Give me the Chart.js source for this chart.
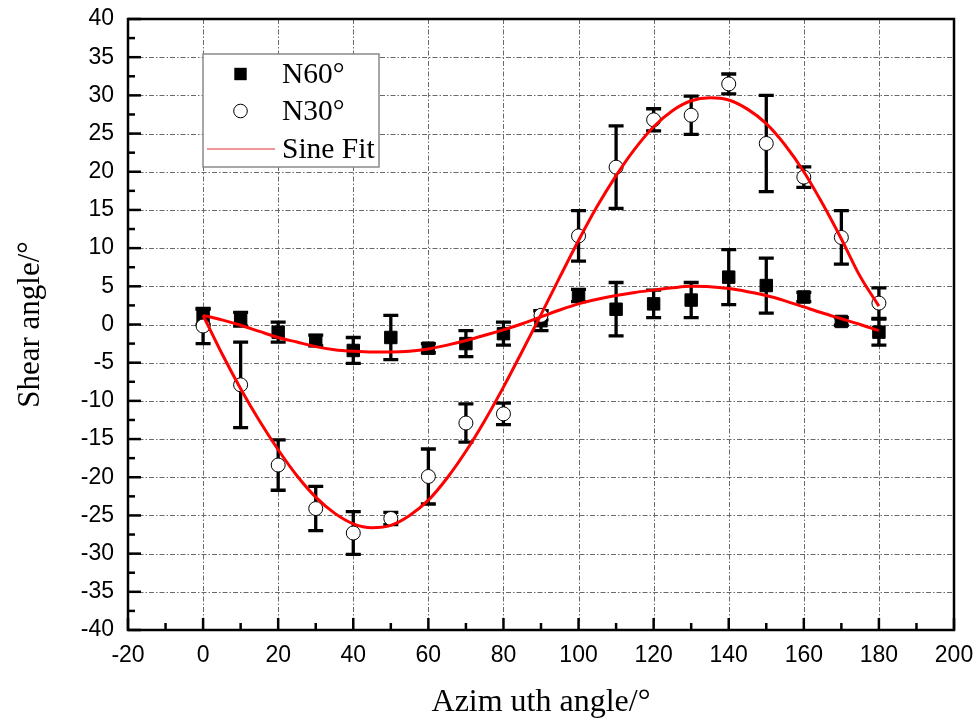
<!DOCTYPE html>
<html>
<head>
<meta charset="utf-8">
<script src="https://cdn.jsdelivr.net/npm/chart.js@4.4.1/dist/chart.umd.min.js"></script>
<style>
html,body{margin:0;padding:0;background:#fff;}
#wrap{width:979px;height:722px;}
</style>
</head>
<body>
<div id="wrap"><canvas id="c" width="979" height="722"></canvas></div>
<script>
// ---- data ----
const angles = [0,10,20,30,40,50,60,70,80,90,100,110,120,130,140,150,160,170,180];
const n60 = [1.0,0.7,-1.0,-2.1,-3.4,-1.7,-3.1,-2.5,-1.2,0.5,3.8,2.0,2.7,3.2,6.2,5.1,3.6,0.4,-1.0];
const n60Err = [1.0,0.9,1.3,0.7,1.7,2.9,0.6,1.7,1.5,1.3,0.8,3.5,1.8,2.3,3.6,3.6,0.6,0.5,1.7];
const n30 = [-0.2,-7.9,-18.4,-24.1,-27.3,-25.4,-19.9,-12.9,-11.7,1.2,11.6,20.6,26.8,27.4,31.5,23.7,19.3,11.4,2.8];
const n30Err = [2.3,5.6,3.3,2.9,2.8,0.8,3.6,2.5,1.4,0.6,3.3,5.4,1.45,2.5,1.3,6.3,1.35,3.5,2.0];

const fitAngles = [0,5,10,15,20,25,30,35,40,45,50,55,60,65,70,75,80,85,90,95,100,105,110,115,120,125,130,135,140,145,150,155,160,165,170,175,180];
const fitN60 = [1.2,0.6,-0.1,-0.9,-1.7,-2.3,-2.9,-3.3,-3.5,-3.6,-3.6,-3.5,-3.2,-2.7,-2.1,-1.4,-0.7,0.1,1.0,1.9,2.7,3.3,3.8,4.2,4.5,4.8,5.0,4.95,4.7,4.3,3.8,3.1,2.3,1.5,0.75,0.0,-0.8];
const fitN30 = [1.2,-3.8,-8.4,-12.6,-16.4,-19.8,-22.6,-24.7,-26.1,-26.6,-26.3,-25.0,-23.0,-20.1,-16.6,-12.6,-8.2,-3.5,1.3,6.2,11.0,15.5,19.5,23.0,25.9,28.0,29.3,29.7,29.4,28.2,26.3,23.5,20.0,15.8,11.2,6.3,2.4];

const xTitle = 'Azim uth angle/\u00B0';
const yTitle = 'Shear angle/\u00B0';
const seriesLabels = ['N60\u00B0','N30\u00B0','Sine Fit'];

const pts = (xs, ys) => xs.map((x,i)=>({x:x,y:ys[i]}));

// error bars
const errorBarPlugin = {
  id:'errorBars',
  beforeDatasetsDraw(chart){
    const {ctx, scales:{x,y}} = chart;
    ctx.save();
    ctx.strokeStyle='#000';
    ctx.lineWidth=3.3;
    ctx.lineCap='butt';
    const cap=7.5;
    const draw=(xs,ys,es)=>{
      xs.forEach((a,i)=>{
        const px=x.getPixelForValue(a);
        const top=y.getPixelForValue(ys[i]+es[i]);
        const bot=y.getPixelForValue(ys[i]-es[i]);
        ctx.beginPath();
        ctx.moveTo(px,top);ctx.lineTo(px,bot);
        ctx.moveTo(px-cap,top);ctx.lineTo(px+cap,top);
        ctx.moveTo(px-cap,bot);ctx.lineTo(px+cap,bot);
        ctx.stroke();
      });
    };
    draw(angles,n60,n60Err);
    draw(angles,n30,n30Err);
    ctx.restore();
  }
};

// grid, frame, inward ticks
const framePlugin = {
  id:'frame',
  beforeDatasetsDraw(chart){
    const {ctx, chartArea:a, scales:{x,y}} = chart;
    ctx.save();
    ctx.strokeStyle='#6a6a6a';
    ctx.lineWidth=1;
    ctx.setLineDash([5,2,1.5,2]);
    x.ticks.forEach(t=>{
      const px=Math.round(x.getPixelForValue(t.value))+0.5;
      if(px<=a.left+1||px>=a.right-1) return;
      ctx.beginPath();ctx.moveTo(px,a.top);ctx.lineTo(px,a.bottom);ctx.stroke();
    });
    y.ticks.forEach(t=>{
      const py=Math.round(y.getPixelForValue(t.value))+0.5;
      if(py<=a.top+1||py>=a.bottom-1) return;
      ctx.beginPath();ctx.moveTo(a.left,py);ctx.lineTo(a.right,py);ctx.stroke();
    });
    ctx.restore();
  },
  afterDatasetsDraw(chart){
    const {ctx, chartArea:a, scales:{x,y}} = chart;
    ctx.save();
    ctx.strokeStyle='#000';
    ctx.setLineDash([]);
    ctx.lineWidth=2.5;
    ctx.strokeRect(a.left,a.top,a.right-a.left,a.bottom-a.top);
    ctx.lineWidth=2.5;
    const xt=x.ticks.map(t=>t.value);
    xt.forEach((v,i)=>{
      const px=x.getPixelForValue(v);
      ctx.beginPath();ctx.moveTo(px,a.bottom);ctx.lineTo(px,a.bottom-12);ctx.stroke();
      if(i<xt.length-1){
        const pm=x.getPixelForValue((v+xt[i+1])/2);
        ctx.beginPath();ctx.moveTo(pm,a.bottom);ctx.lineTo(pm,a.bottom-7);ctx.stroke();
      }
    });
    const yt=y.ticks.map(t=>t.value);
    yt.forEach((v,i)=>{
      const py=y.getPixelForValue(v);
      ctx.beginPath();ctx.moveTo(a.left,py);ctx.lineTo(a.left+13,py);ctx.stroke();
      if(i<yt.length-1){
        const pm=y.getPixelForValue((v+yt[i+1])/2);
        ctx.beginPath();ctx.moveTo(a.left,pm);ctx.lineTo(a.left+7,pm);ctx.stroke();
      }
    });
    ctx.restore();
  }
};

// legend box
const legendPlugin = {
  id:'boxLegend',
  afterDraw(chart){
    const ctx=chart.ctx;
    ctx.save();
    const L=203,T=54,W=176,H=113;
    ctx.fillStyle='#fff';
    ctx.fillRect(L,T,W,H);
    ctx.strokeStyle='#8a8a8a';
    ctx.lineWidth=1.5;
    ctx.strokeRect(L,T,W,H);
    const rows=[74,111,149];
    ctx.fillStyle='#000';
    ctx.fillRect(240.5-6.2,rows[0]-6.2,12.4,12.4);
    ctx.beginPath();ctx.arc(240.5,rows[1],6.8,0,Math.PI*2);
    ctx.fillStyle='#fff';ctx.fill();
    ctx.strokeStyle='#000';ctx.lineWidth=1;ctx.stroke();
    ctx.strokeStyle='#e03030';ctx.lineWidth=1.2;
    ctx.beginPath();ctx.moveTo(207,rows[2]);ctx.lineTo(275,rows[2]);ctx.stroke();
    ctx.fillStyle='#000';
    ctx.font='29.5px "Liberation Serif", "Times New Roman", serif';
    ctx.textBaseline='middle';
    ctx.textAlign='left';
    seriesLabels.forEach((s,i)=>ctx.fillText(s,282,rows[i]+1));
    ctx.restore();
  }
};

const chart = new Chart(document.getElementById('c'), {
  type:'scatter',
  data:{
    datasets:[
      {label:seriesLabels[2], data:pts(fitAngles,fitN30), showLine:true, borderColor:'#ff0000', borderWidth:3, pointRadius:0, cubicInterpolationMode:'monotone', fill:false, order:0},
      {label:seriesLabels[2], data:pts(fitAngles,fitN60), showLine:true, borderColor:'#ff0000', borderWidth:3, pointRadius:0, cubicInterpolationMode:'monotone', fill:false, order:0},
      {label:seriesLabels[1], data:pts(angles,n30), pointStyle:'circle', pointRadius:7, backgroundColor:'#fff', borderColor:'#000', borderWidth:1, order:1},
      {label:seriesLabels[0], data:pts(angles,n60), pointStyle:'rect', pointRadius:8.8, backgroundColor:'#000', borderColor:'#000', borderWidth:1, order:2}
    ]
  },
  options:{
    responsive:false,
    animation:false,
    devicePixelRatio:1,
    layout:{padding:{left:0,top:19,right:25,bottom:0}},
    plugins:{legend:{display:false}, tooltip:{enabled:false}},
    scales:{
      x:{
        type:'linear', min:-20, max:200,
        ticks:{stepSize:20, color:'#000', padding:12, font:{family:'"Liberation Sans", Arial, sans-serif', size:23}},
        grid:{display:false, drawTicks:false},
        border:{display:false},
        title:{display:true, text:xTitle, color:'#000', padding:{top:14,bottom:0}, font:{family:'"Liberation Serif", "Times New Roman", serif', size:32}},
        afterFit(s){ s.height = 92; s.paddingLeft = 0; s.paddingRight = 0; }
      },
      y:{
        type:'linear', min:-40, max:40,
        ticks:{stepSize:5, color:'#000', padding:14, font:{family:'"Liberation Sans", Arial, sans-serif', size:23}},
        grid:{display:false, drawTicks:false},
        border:{display:false},
        title:{display:true, text:yTitle, color:'#000', padding:{top:12,bottom:0}, font:{family:'"Liberation Serif", "Times New Roman", serif', size:31}},
        afterFit(s){ s.width = 128; s.paddingTop = 0; s.paddingBottom = 0; }
      }
    }
  },
  plugins:[framePlugin, errorBarPlugin, legendPlugin]
});
</script>
</body>
</html>
